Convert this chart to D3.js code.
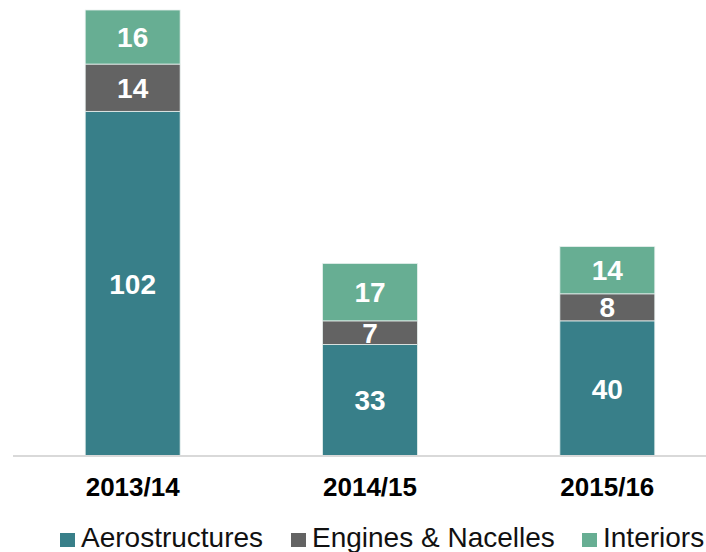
<!DOCTYPE html>
<html>
<head>
<meta charset="utf-8">
<script src="https://cdn.jsdelivr.net/npm/d3@7"></script>
<style>
  body { margin: 0; background: #fff; }
  svg { font-family: 'Liberation Sans', Arial, sans-serif; }
</style>
</head>
<body>
<div class="vis-container"></div>
<script>
// Data
const years = ['2013/14', '2014/15', '2015/16'];
const seriesNames = ['Aerostructures', 'Engines & Nacelles', 'Interiors'];
const aerostructures = [102, 33, 40];
const engines = [14, 7, 8];
const interiors = [16, 17, 14];
const colors = ['#387f89', '#636363', '#67ae93'];

const width = 706;
const height = 552;
const margin = { top: 10, bottom: 96, left: 13 };

const svg = d3
  .select('.vis-container')
  .append('svg')
  .attr('width', width)
  .attr('height', height);

const rows = years.map((y, i) => ({
  year: y,
  'Aerostructures': aerostructures[i],
  'Engines & Nacelles': engines[i],
  'Interiors': interiors[i]
}));

const stack = d3.stack().keys(seriesNames)(rows);

const xScale = d3
  .scaleBand()
  .domain(years)
  .range([14, 726])
  .paddingInner(0.6)
  .paddingOuter(0.3);

const yScale = d3
  .scaleLinear()
  .domain([0, 132])
  .range([height - margin.bottom, margin.top]);

// bars
const layer = svg
  .selectAll('g.layer')
  .data(stack)
  .join('g')
  .attr('class', 'layer')
  .attr('fill', (d, i) => colors[i]);

layer
  .selectAll('rect')
  .data((d) => d)
  .join('rect')
  .attr('x', (d) => xScale(d.data.year))
  .attr('y', (d) => yScale(d[1]))
  .attr('width', xScale.bandwidth())
  .attr('height', (d) => yScale(d[0]) - yScale(d[1]))
  .attr('stroke', '#e8f0ee')
  .attr('stroke-width', 0.8);

// value labels
layer
  .selectAll('text')
  .data((d) => d)
  .join('text')
  .attr('x', (d) => xScale(d.data.year) + xScale.bandwidth() / 2)
  .attr('y', (d) => (yScale(d[0]) + yScale(d[1])) / 2)
  .attr('dy', '0.36em')
  .attr('text-anchor', 'middle')
  .attr('fill', 'white')
  .attr('font-weight', 'bold')
  .attr('font-size', 28)
  .text((d) => d[1] - d[0]);

// x axis
const xAxis = d3.axisBottom(xScale).tickSize(0).tickPadding(22);
svg
  .append('g')
  .attr('transform', `translate(0, ${height - margin.bottom})`)
  .call(xAxis)
  .call((g) =>
    g
      .select('.domain')
      .attr('d', `M${margin.left},0H${width}`)
      .attr('stroke', '#d9d9d9')
      .attr('stroke-width', 2)
  )
  .call((g) =>
    g
      .selectAll('.tick text')
      .attr('font-family', "'Liberation Sans', Arial, sans-serif")
      .attr('font-size', 26)
      .attr('font-weight', 'bold')
      .attr('fill', 'black')
  );

// legend
const legendX = [60, 291, 582];
const legend = svg
  .append('g')
  .selectAll('g')
  .data(seriesNames)
  .join('g')
  .attr('transform', (d, i) => `translate(${legendX[i]}, 547)`);

legend
  .append('rect')
  .attr('x', 0)
  .attr('y', -14)
  .attr('width', 15)
  .attr('height', 14)
  .attr('fill', (d, i) => colors[i]);

legend
  .append('text')
  .attr('x', 21)
  .attr('y', 0)
  .attr('font-size', 28)
  .attr('fill', '#111')
  .text((d) => d);
</script>
</body>
</html>
